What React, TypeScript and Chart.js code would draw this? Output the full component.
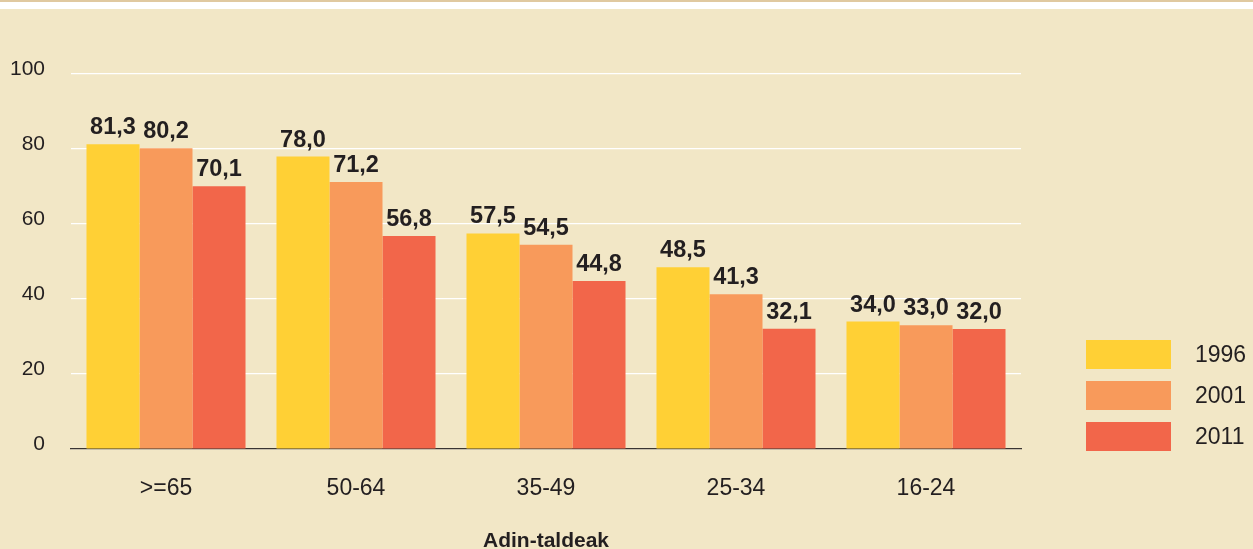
import React, { useEffect, useRef } from "react";
import { Chart, registerables } from "chart.js";

Chart.register(...registerables);

const categories = [">=65", "50-64", "35-49", "25-34", "16-24"];
const seriesNames = ["1996", "2001", "2011"];
const values1996 = [81.3, 78.0, 57.5, 48.5, 34.0];
const values2001 = [80.2, 71.2, 54.5, 41.3, 33.0];
const values2011 = [70.1, 56.8, 44.8, 32.1, 32.0];
const yTicks = [0, 20, 40, 60, 80, 100];
const axisTitle = "Adin-taldeak";

const colors = ["#FFD035", "#F89A5B", "#F2664A"];
const textColor = "#231F20";
const FONT = "'Liberation Sans', Arial, Helvetica, sans-serif";

const fmt = (v: number) => v.toFixed(1).replace(".", ",");

const valueLabelPlugin = {
  id: "valueLabels",
  afterDatasetsDraw(chart: any) {
    const ctx = chart.ctx;
    ctx.save();
    ctx.font = `bold 23.5px ${FONT}`;
    ctx.fillStyle = textColor;
    ctx.textAlign = "center";
    ctx.textBaseline = "alphabetic";
    chart.data.datasets.forEach((ds: any, i: number) => {
      const meta = chart.getDatasetMeta(i);
      meta.data.forEach((bar: any, j: number) => {
        ctx.fillText(fmt(ds.data[j]), bar.x, bar.y - 10);
      });
    });
    ctx.restore();
  },
};

const legendPlugin = {
  id: "customLegend",
  afterDraw(chart: any) {
    const ctx = chart.ctx;
    ctx.save();
    ctx.font = `23px ${FONT}`;
    ctx.textAlign = "left";
    ctx.textBaseline = "middle";
    chart.data.datasets.forEach((ds: any, i: number) => {
      const y = 331 + i * 41;
      ctx.fillStyle = ds.backgroundColor;
      ctx.fillRect(1086, y, 85, 29);
      ctx.fillStyle = textColor;
      ctx.fillText(ds.label, 1195, y + 16);
    });
    ctx.restore();
  },
};

export default function App() {
  const ref = useRef<HTMLCanvasElement | null>(null);

  useEffect(() => {
    if (!ref.current) return;
    const allSeries = [values1996, values2001, values2011];
    const chart = new Chart(ref.current, {
      type: "bar",
      data: {
        labels: categories,
        datasets: allSeries.map((vals, i) => ({
          label: seriesNames[i],
          data: vals,
          backgroundColor: colors[i],
          borderWidth: 0,
          categoryPercentage: 0.837,
          barPercentage: 1.0,
        })),
      },
      options: {
        animation: false,
        responsive: false,
        maintainAspectRatio: false,
        devicePixelRatio: 1,
        layout: { padding: { top: 65, right: 232, left: 0, bottom: 0 } },
        plugins: {
          legend: { display: false },
          tooltip: { enabled: false },
        },
        scales: {
          x: {
            type: "category",
            grid: { display: true, color: "rgba(0,0,0,0)", drawTicks: false },
            border: { display: true, color: "#3A3533", width: 1.2 },
            ticks: {
              color: textColor,
              font: { family: FONT, size: 23, lineHeight: 1.2 },
              padding: 26,
            },
            title: {
              display: true,
              text: axisTitle,
              color: textColor,
              font: { family: FONT, size: 21, weight: "bold", lineHeight: 1 },
              padding: { top: 0, bottom: -3 },
            },
            afterFit: (s: any) => {
              s.height = 100;
            },
          },
          y: {
            min: 0,
            max: 100,
            afterBuildTicks: (s: any) => {
              s.ticks = yTicks.map((v) => ({ value: v }));
            },
            grid: { color: "#FFFFFF", lineWidth: 1.2, drawTicks: false },
            border: { display: false },
            ticks: {
              color: textColor,
              font: { family: FONT, size: 21 },
              padding: 26,
              labelOffset: -5,
            },
            afterFit: (s: any) => {
              s.width = 71;
            },
          },
        },
      },
      plugins: [valueLabelPlugin, legendPlugin],
    });
    return () => chart.destroy();
  }, []);

  return (
    <div
      style={{
        position: "fixed",
        left: 0,
        top: 0,
        width: 1253,
        height: 549,
        background: "#F2E7C6",
        overflow: "hidden",
      }}
    >
      <div style={{ position: "absolute", left: 0, top: 0, width: 1253, height: 2, background: "#E0C9A0" }} />
      <div style={{ position: "absolute", left: 0, top: 2, width: 1253, height: 7, background: "#FFFFFF" }} />
      <canvas
        ref={ref}
        width={1253}
        height={540}
        style={{ position: "absolute", left: 0, top: 9, width: 1253, height: 540 }}
      />
    </div>
  );
}
